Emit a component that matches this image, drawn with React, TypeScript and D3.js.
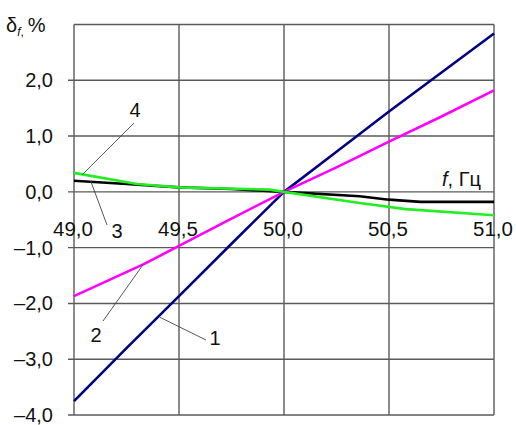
import React from "react";
import * as d3 from "d3";

// Frequency deviation δf (%) vs. grid frequency f (Hz) for four curves
const xTicks = [49.0, 49.5, 50.0, 50.5, 51.0];
const yTicks = [-4, -3, -2, -1, 0, 1, 2];

const freq1 = [49.0, 49.25, 49.5, 49.75, 50.0, 50.25, 50.5, 50.75, 51.0];
const curve1 = [-3.75, -2.8, -1.87, -0.93, 0, 0.72, 1.44, 2.14, 2.84];

const freq2 = [49.0, 49.33, 49.5, 49.75, 50.0, 50.25, 50.5, 50.75, 51.0];
const curve2 = [-1.87, -1.3, -0.97, -0.48, 0, 0.44, 0.9, 1.35, 1.82];

const freq3 = [49.0, 49.25, 49.5, 49.75, 50.0, 50.36, 50.5, 50.65, 51.0];
const curve3 = [0.2, 0.14, 0.08, 0.05, 0, -0.08, -0.14, -0.18, -0.18];

const freq4 = [49.0, 49.3, 49.5, 49.93, 50.0, 50.36, 50.58, 51.0];
const curve4 = [0.34, 0.14, 0.08, 0.04, 0, -0.2, -0.31, -0.42];

const seriesLabels = ["1", "2", "3", "4"];
const seriesColors = ["#000080", "#ff00ff", "#000000", "#22ee22"];

const fmt = (v: number) => {
  const s = v.toFixed(1).replace(".", ",");
  return v < 0 ? "\u2013" + s.slice(1) : s;
};

export default function App() {
  const W = 516;
  const H = 425;
  const x = d3.scaleLinear().domain([49, 51]).range([74, 494]);
  const y = d3.scaleLinear().domain([-4, 3]).range([415, 24.5]);

  const line = d3
    .line<[number, number]>()
    .x((d) => x(d[0]))
    .y((d) => y(d[1]));

  const series: [number, number][][] = [
    freq1.map((f, i) => [f, curve1[i]]),
    freq2.map((f, i) => [f, curve2[i]]),
    freq3.map((f, i) => [f, curve3[i]]),
    freq4.map((f, i) => [f, curve4[i]]),
  ];

  const font = "'Liberation Sans', Arial, sans-serif";
  const grid = "#5a5a5a";

  // leader lines: [point on the curve (data units)] -> label position (px)
  const leaders = [
    { f: 49.41, v: -2.25, lx: 206, ly: 340, tx: 215, ty: 345 },
    { f: 49.33, v: -1.3, lx: 103, ly: 321, tx: 96, ty: 342 },
    { f: 49.08, v: 0.19, lx: 107, ly: 225, tx: 117, ty: 238 },
    { f: 49.04, v: 0.31, lx: 134, ly: 123, tx: 135, ty: 117 },
  ];

  return (
    <svg
      width={W}
      height={H}
      style={{ position: "absolute", left: 0, top: 0, background: "#fff" }}
      fontFamily={font}
    >
      {/* horizontal grid lines with short left ticks */}
      {yTicks.concat([3]).map((t) => (
        <line
          key={"h" + t}
          x1={t === 3 ? 74 : 68}
          x2={494}
          y1={y(t)}
          y2={y(t)}
          stroke={grid}
          strokeWidth={1.4}
        />
      ))}
      {/* vertical grid lines */}
      {xTicks.map((t) => (
        <line
          key={"v" + t}
          x1={x(t)}
          x2={x(t)}
          y1={y(3)}
          y2={y(-4)}
          stroke={grid}
          strokeWidth={1.4}
        />
      ))}

      {/* y tick labels */}
      {yTicks.map((t) => (
        <text
          key={"yl" + t}
          x={53}
          y={y(t) + 7}
          textAnchor="end"
          fontSize={20}
          fill="#111"
        >
          {fmt(t)}
        </text>
      ))}

      {/* x tick labels along the zero line */}
      {xTicks.map((t) => (
        <text
          key={"xl" + t}
          x={x(t) - 1}
          y={235.5}
          textAnchor="middle"
          fontSize={20.5}
          fill="#111"
        >
          {fmt(t)}
        </text>
      ))}

      {/* axis titles */}
      <text x={6} y={31.5} fontSize={20} fill="#111">
        δ
        <tspan fontSize={12} fontStyle="italic" dy={4}>
          f
        </tspan>
        <tspan fontSize={12} dy={0}>
          ,
        </tspan>
        <tspan fontSize={20} dy={-4} dx={4}>
          %
        </tspan>
      </text>
      <text x={442} y={186} fontSize={20} fill="#111">
        <tspan fontStyle="italic">f</tspan>, Гц
      </text>

      {/* curves */}
      {series.map((s, i) => (
        <path
          key={"s" + i}
          d={line(s) || ""}
          fill="none"
          stroke={seriesColors[i]}
          strokeWidth={2.6}
          strokeLinejoin="round"
        />
      ))}

      {/* curve labels with leader lines */}
      {leaders.map((l, i) => (
        <g key={"lab" + i}>
          <line
            x1={x(l.f)}
            y1={y(l.v)}
            x2={l.lx}
            y2={l.ly}
            stroke="#444"
            strokeWidth={0.9}
          />
          <text
            x={l.tx}
            y={l.ty}
            textAnchor="middle"
            fontSize={20}
            fill="#111"
          >
            {seriesLabels[i]}
          </text>
        </g>
      ))}
    </svg>
  );
}
